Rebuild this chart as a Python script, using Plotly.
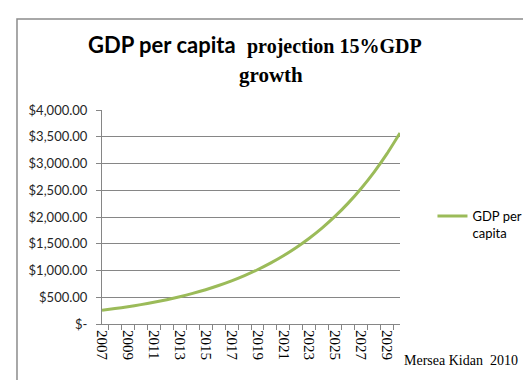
import plotly.graph_objects as go

years = [str(y) for y in range(2007, 2031)]
gdp_per_capita = [257, 288, 323, 362, 406, 455, 510, 572, 641, 719, 806, 904,
                  1014, 1137, 1275, 1430, 1603, 1797, 2015, 2259, 2533, 2840, 3184, 3570]
y_tick_vals = [0, 500, 1000, 1500, 2000, 2500, 3000, 3500, 4000]
y_tick_text = ["$-", "$500.00", "$1,000.00", "$1,500.00", "$2,000.00",
               "$2,500.00", "$3,000.00", "$3,500.00", "$4,000.00"]
x_tick_text = [y if (int(y) - 2007) % 2 == 0 else "" for y in years]

W, H = 531, 380
L, R, T, B = 94, 406, 102, 316

def px(x):
    return (x - L) / (R - L)

def py(y):
    return (B - y) / (B - T)

fig = go.Figure()
fig.add_trace(go.Scatter(
    x=years, y=gdp_per_capita, mode="lines", name="GDP per<br>capita",
    line=dict(color="#9BBB59", width=3, shape="spline", smoothing=0.6),
))

fig.update_layout(
    width=W, height=H,
    margin=dict(l=L, r=W - R, t=T, b=H - B, pad=0),
    paper_bgcolor="white", plot_bgcolor="white",
    showlegend=True,
    legend=dict(x=px(440), y=py(193), xanchor="left", yanchor="top", valign="top",
                font=dict(family="Lato, Calibri, sans-serif", size=13, color="#000000"),
                itemwidth=30, bgcolor="rgba(0,0,0,0)", tracegroupgap=0),
    xaxis=dict(
        type="category", tickmode="array", tickvals=years, ticktext=x_tick_text,
        tickangle=90, tickson="boundaries", ticks="outside", ticklen=5,
        tickcolor="#868686", showline=True, linecolor="#868686", linewidth=1,
        showgrid=False, zeroline=False, ticklabelstandoff=2,
        tickfont=dict(family="Liberation Serif, serif", size=15, color="#000000"),
    ),
    yaxis=dict(
        range=[0, 4000], tickmode="array", tickvals=y_tick_vals, ticktext=y_tick_text,
        ticks="outside", ticklen=5, tickcolor="#868686",
        showline=True, linecolor="#868686", linewidth=1, ticklabelstandoff=6,
        showgrid=True, gridcolor="#868686", gridwidth=1, zeroline=False,
        tickfont=dict(family="Lato, Calibri, sans-serif", size=13, color="#262626"),
    ),
)

fig.add_shape(type="rect", xref="paper", yref="paper",
              x0=px(5), x1=px(540), y0=py(390), y1=py(11),
              line=dict(color="#8C8C8C", width=1.5), fillcolor="rgba(0,0,0,0)", layer="below")

fig.add_annotation(x=px(236), y=py(37), xref="paper", yref="paper", showarrow=False,
                   xanchor="right", yanchor="middle", text="<b>GDP per capita</b>",
                   font=dict(family="Lato, Calibri, sans-serif", size=22, color="#000000"))
fig.add_annotation(x=px(244), y=py(38), xref="paper", yref="paper", showarrow=False,
                   xanchor="left", yanchor="middle", text="<b>projection 15%GDP</b>",
                   font=dict(family="Liberation Serif, serif", size=20, color="#000000"))
fig.add_annotation(x=px(271), y=py(67), xref="paper", yref="paper", showarrow=False,
                   xanchor="center", yanchor="middle", text="<b>growth</b>",
                   font=dict(family="Liberation Serif, serif", size=21, color="#000000"))
fig.add_annotation(x=px(408), y=py(352), xref="paper", yref="paper", showarrow=False,
                   xanchor="left", yanchor="middle", text="Mersea Kidan  2010",
                   font=dict(family="Liberation Serif, serif", size=14, color="#000000"))

fig.write_html("out.html")
